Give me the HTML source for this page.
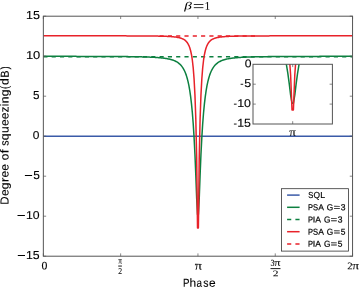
<!DOCTYPE html><html><head><meta charset="utf-8"><style>html,body{margin:0;padding:0;background:#fff;overflow:hidden}svg{display:block} text{filter:grayscale(1);font-kerning:none;text-rendering:geometricPrecision} .ts{stroke:#000;stroke-width:0.1px;paint-order:stroke} .tl{stroke:#000;stroke-width:0.22px;paint-order:stroke} .tr{stroke:#000;stroke-width:0.08px;paint-order:stroke}</style></head><body>
<svg width="359" height="287" viewBox="0 0 359 287">
<rect x="0" y="0" width="359" height="287" fill="#fff"/>
<defs><clipPath id="cm"><rect x="43.35" y="16.2" width="309.2" height="240.0"/></clipPath><clipPath id="ci"><rect x="253.0" y="64.3" width="79.39999999999998" height="59.7"/></clipPath></defs>
<g clip-path="url(#cm)" fill="none" stroke-width="1.5" stroke-linejoin="round">
<path d="M43.35,136.20 L352.55,136.20" stroke="#3a5aa8"/>
<path d="M43.35,56.35 L44.21,56.35 L45.07,56.35 L45.93,56.35 L46.80,56.35 L47.66,56.35 L48.52,56.35 L49.38,56.35 L50.24,56.35 L51.10,56.35 L51.96,56.35 L52.82,56.35 L53.69,56.35 L54.55,56.35 L55.41,56.35 L56.27,56.36 L57.13,56.36 L57.99,56.36 L58.85,56.36 L59.71,56.36 L60.58,56.36 L61.44,56.36 L62.30,56.36 L63.16,56.36 L64.02,56.36 L64.88,56.36 L65.74,56.36 L66.60,56.36 L67.47,56.36 L68.33,56.36 L69.19,56.37 L70.05,56.37 L70.91,56.37 L71.77,56.37 L72.63,56.37 L73.49,56.37 L74.36,56.37 L75.22,56.37 L76.08,56.37 L76.94,56.38 L77.80,56.38 L78.66,56.38 L79.52,56.38 L80.39,56.38 L81.25,56.38 L82.11,56.38 L82.97,56.39 L83.83,56.39 L84.69,56.39 L85.55,56.39 L86.41,56.39 L87.28,56.39 L88.14,56.40 L89.00,56.40 L89.86,56.40 L90.72,56.40 L91.58,56.41 L92.44,56.41 L93.30,56.41 L94.17,56.41 L95.03,56.41 L95.89,56.42 L96.75,56.42 L97.61,56.42 L98.47,56.43 L99.33,56.43 L100.19,56.43 L101.06,56.44 L101.92,56.44 L102.78,56.44 L103.64,56.45 L104.50,56.45 L105.36,56.45 L106.22,56.46 L107.08,56.46 L107.95,56.47 L108.81,56.47 L109.67,56.47 L110.53,56.48 L111.39,56.48 L112.25,56.49 L113.11,56.49 L113.98,56.50 L114.84,56.50 L115.70,56.51 L116.56,56.52 L117.42,56.52 L118.28,56.53 L119.14,56.54 L120.00,56.54 L120.87,56.55 L121.73,56.56 L122.59,56.57 L123.45,56.57 L124.31,56.58 L125.17,56.59 L126.03,56.60 L126.89,56.61 L127.76,56.62 L128.62,56.63 L129.48,56.64 L130.34,56.65 L131.20,56.66 L132.06,56.68 L132.92,56.69 L133.78,56.70 L134.65,56.72 L135.51,56.73 L136.37,56.75 L137.23,56.76 L138.09,56.78 L138.95,56.80 L139.81,56.81 L140.67,56.83 L141.54,56.85 L142.40,56.88 L143.26,56.90 L144.12,56.92 L144.98,56.95 L145.84,56.98 L146.70,57.00 L147.57,57.03 L148.43,57.07 L149.29,57.10 L150.15,57.13 L151.01,57.17 L151.87,57.21 L152.73,57.26 L153.59,57.30 L154.46,57.35 L155.32,57.40 L156.18,57.46 L157.04,57.52 L157.90,57.58 L158.76,57.65 L159.62,57.72 L160.48,57.80 L161.35,57.89 L162.21,57.98 L163.07,58.08 L163.93,58.19 L164.79,58.30 L165.65,58.43 L166.51,58.57 L167.37,58.72 L168.24,58.89 L169.10,59.07 L169.96,59.27 L170.82,59.49 L171.68,59.74 L172.54,60.01 L173.40,60.31 L174.26,60.65 L175.13,61.03 L175.99,61.46 L176.85,61.94 L177.71,62.48 L178.57,63.09 L179.43,63.80 L180.29,64.60 L181.16,65.53 L182.02,66.60 L182.88,67.84 L183.74,69.29 L184.60,70.99 L185.46,73.00 L186.32,75.37 L187.18,78.20 L188.05,81.59 L188.91,85.66 L189.77,90.58 L190.63,96.56 L191.49,103.84 L192.35,112.76 L193.21,123.74 L194.07,137.36 L194.94,154.29 L195.80,175.07 L196.66,198.25 L197.52,214.55 L198.38,214.55 L199.24,198.25 L200.10,175.07 L200.96,154.29 L201.83,137.36 L202.69,123.74 L203.55,112.76 L204.41,103.84 L205.27,96.56 L206.13,90.58 L206.99,85.66 L207.85,81.59 L208.72,78.20 L209.58,75.37 L210.44,73.00 L211.30,70.99 L212.16,69.29 L213.02,67.84 L213.88,66.60 L214.74,65.53 L215.61,64.60 L216.47,63.80 L217.33,63.09 L218.19,62.48 L219.05,61.94 L219.91,61.46 L220.77,61.03 L221.64,60.65 L222.50,60.31 L223.36,60.01 L224.22,59.74 L225.08,59.49 L225.94,59.27 L226.80,59.07 L227.66,58.89 L228.53,58.72 L229.39,58.57 L230.25,58.43 L231.11,58.30 L231.97,58.19 L232.83,58.08 L233.69,57.98 L234.55,57.89 L235.42,57.80 L236.28,57.72 L237.14,57.65 L238.00,57.58 L238.86,57.52 L239.72,57.46 L240.58,57.40 L241.44,57.35 L242.31,57.30 L243.17,57.26 L244.03,57.21 L244.89,57.17 L245.75,57.13 L246.61,57.10 L247.47,57.07 L248.33,57.03 L249.20,57.00 L250.06,56.98 L250.92,56.95 L251.78,56.92 L252.64,56.90 L253.50,56.88 L254.36,56.85 L255.23,56.83 L256.09,56.81 L256.95,56.80 L257.81,56.78 L258.67,56.76 L259.53,56.75 L260.39,56.73 L261.25,56.72 L262.12,56.70 L262.98,56.69 L263.84,56.68 L264.70,56.66 L265.56,56.65 L266.42,56.64 L267.28,56.63 L268.14,56.62 L269.01,56.61 L269.87,56.60 L270.73,56.59 L271.59,56.58 L272.45,56.57 L273.31,56.57 L274.17,56.56 L275.03,56.55 L275.90,56.54 L276.76,56.54 L277.62,56.53 L278.48,56.52 L279.34,56.52 L280.20,56.51 L281.06,56.50 L281.92,56.50 L282.79,56.49 L283.65,56.49 L284.51,56.48 L285.37,56.48 L286.23,56.47 L287.09,56.47 L287.95,56.47 L288.82,56.46 L289.68,56.46 L290.54,56.45 L291.40,56.45 L292.26,56.45 L293.12,56.44 L293.98,56.44 L294.84,56.44 L295.71,56.43 L296.57,56.43 L297.43,56.43 L298.29,56.42 L299.15,56.42 L300.01,56.42 L300.87,56.41 L301.73,56.41 L302.60,56.41 L303.46,56.41 L304.32,56.41 L305.18,56.40 L306.04,56.40 L306.90,56.40 L307.76,56.40 L308.62,56.39 L309.49,56.39 L310.35,56.39 L311.21,56.39 L312.07,56.39 L312.93,56.39 L313.79,56.38 L314.65,56.38 L315.51,56.38 L316.38,56.38 L317.24,56.38 L318.10,56.38 L318.96,56.38 L319.82,56.37 L320.68,56.37 L321.54,56.37 L322.41,56.37 L323.27,56.37 L324.13,56.37 L324.99,56.37 L325.85,56.37 L326.71,56.37 L327.57,56.36 L328.43,56.36 L329.30,56.36 L330.16,56.36 L331.02,56.36 L331.88,56.36 L332.74,56.36 L333.60,56.36 L334.46,56.36 L335.32,56.36 L336.19,56.36 L337.05,56.36 L337.91,56.36 L338.77,56.36 L339.63,56.36 L340.49,56.35 L341.35,56.35 L342.21,56.35 L343.08,56.35 L343.94,56.35 L344.80,56.35 L345.66,56.35 L346.52,56.35 L347.38,56.35 L348.24,56.35 L349.10,56.35 L349.97,56.35 L350.83,56.35 L351.69,56.35 L352.55,56.35 L352.55,56.35" stroke="#0d8040"/>
<path d="M43.35,56.87 L352.55,56.87" stroke="#0d8040" stroke-dasharray="4.15 4.15"/>
<path d="M43.35,35.81 L44.21,35.81 L45.07,35.81 L45.93,35.81 L46.80,35.81 L47.66,35.81 L48.52,35.81 L49.38,35.81 L50.24,35.81 L51.10,35.81 L51.96,35.82 L52.82,35.82 L53.69,35.82 L54.55,35.82 L55.41,35.82 L56.27,35.82 L57.13,35.82 L57.99,35.82 L58.85,35.82 L59.71,35.82 L60.58,35.82 L61.44,35.82 L62.30,35.82 L63.16,35.82 L64.02,35.82 L64.88,35.82 L65.74,35.82 L66.60,35.82 L67.47,35.82 L68.33,35.82 L69.19,35.82 L70.05,35.82 L70.91,35.82 L71.77,35.82 L72.63,35.82 L73.49,35.82 L74.36,35.82 L75.22,35.82 L76.08,35.82 L76.94,35.82 L77.80,35.82 L78.66,35.82 L79.52,35.82 L80.39,35.82 L81.25,35.82 L82.11,35.82 L82.97,35.82 L83.83,35.82 L84.69,35.82 L85.55,35.82 L86.41,35.82 L87.28,35.82 L88.14,35.83 L89.00,35.83 L89.86,35.83 L90.72,35.83 L91.58,35.83 L92.44,35.83 L93.30,35.83 L94.17,35.83 L95.03,35.83 L95.89,35.83 L96.75,35.83 L97.61,35.83 L98.47,35.83 L99.33,35.83 L100.19,35.83 L101.06,35.83 L101.92,35.84 L102.78,35.84 L103.64,35.84 L104.50,35.84 L105.36,35.84 L106.22,35.84 L107.08,35.84 L107.95,35.84 L108.81,35.84 L109.67,35.84 L110.53,35.85 L111.39,35.85 L112.25,35.85 L113.11,35.85 L113.98,35.85 L114.84,35.85 L115.70,35.85 L116.56,35.85 L117.42,35.86 L118.28,35.86 L119.14,35.86 L120.00,35.86 L120.87,35.86 L121.73,35.86 L122.59,35.87 L123.45,35.87 L124.31,35.87 L125.17,35.87 L126.03,35.87 L126.89,35.88 L127.76,35.88 L128.62,35.88 L129.48,35.88 L130.34,35.89 L131.20,35.89 L132.06,35.89 L132.92,35.90 L133.78,35.90 L134.65,35.90 L135.51,35.91 L136.37,35.91 L137.23,35.91 L138.09,35.92 L138.95,35.92 L139.81,35.93 L140.67,35.93 L141.54,35.94 L142.40,35.94 L143.26,35.95 L144.12,35.95 L144.98,35.96 L145.84,35.97 L146.70,35.97 L147.57,35.98 L148.43,35.99 L149.29,36.00 L150.15,36.00 L151.01,36.01 L151.87,36.02 L152.73,36.03 L153.59,36.05 L154.46,36.06 L155.32,36.07 L156.18,36.08 L157.04,36.10 L157.90,36.11 L158.76,36.13 L159.62,36.15 L160.48,36.17 L161.35,36.19 L162.21,36.21 L163.07,36.24 L163.93,36.26 L164.79,36.29 L165.65,36.33 L166.51,36.36 L167.37,36.40 L168.24,36.44 L169.10,36.49 L169.96,36.54 L170.82,36.60 L171.68,36.66 L172.54,36.73 L173.40,36.81 L174.26,36.90 L175.13,37.00 L175.99,37.11 L176.85,37.24 L177.71,37.39 L178.57,37.56 L179.43,37.76 L180.29,37.99 L181.16,38.26 L182.02,38.58 L182.88,38.96 L183.74,39.41 L184.60,39.96 L185.46,40.63 L186.32,41.46 L187.18,42.51 L188.05,43.83 L188.91,45.54 L189.77,47.76 L190.63,50.72 L191.49,54.73 L192.35,60.23 L193.21,67.93 L194.07,78.91 L194.94,94.87 L195.80,118.89 L196.66,157.66 L197.52,227.94 L198.38,227.94 L199.24,157.66 L200.10,118.89 L200.96,94.87 L201.83,78.91 L202.69,67.93 L203.55,60.23 L204.41,54.73 L205.27,50.72 L206.13,47.76 L206.99,45.54 L207.85,43.83 L208.72,42.51 L209.58,41.46 L210.44,40.63 L211.30,39.96 L212.16,39.41 L213.02,38.96 L213.88,38.58 L214.74,38.26 L215.61,37.99 L216.47,37.76 L217.33,37.56 L218.19,37.39 L219.05,37.24 L219.91,37.11 L220.77,37.00 L221.64,36.90 L222.50,36.81 L223.36,36.73 L224.22,36.66 L225.08,36.60 L225.94,36.54 L226.80,36.49 L227.66,36.44 L228.53,36.40 L229.39,36.36 L230.25,36.33 L231.11,36.29 L231.97,36.26 L232.83,36.24 L233.69,36.21 L234.55,36.19 L235.42,36.17 L236.28,36.15 L237.14,36.13 L238.00,36.11 L238.86,36.10 L239.72,36.08 L240.58,36.07 L241.44,36.06 L242.31,36.05 L243.17,36.03 L244.03,36.02 L244.89,36.01 L245.75,36.00 L246.61,36.00 L247.47,35.99 L248.33,35.98 L249.20,35.97 L250.06,35.97 L250.92,35.96 L251.78,35.95 L252.64,35.95 L253.50,35.94 L254.36,35.94 L255.23,35.93 L256.09,35.93 L256.95,35.92 L257.81,35.92 L258.67,35.91 L259.53,35.91 L260.39,35.91 L261.25,35.90 L262.12,35.90 L262.98,35.90 L263.84,35.89 L264.70,35.89 L265.56,35.89 L266.42,35.88 L267.28,35.88 L268.14,35.88 L269.01,35.88 L269.87,35.87 L270.73,35.87 L271.59,35.87 L272.45,35.87 L273.31,35.87 L274.17,35.86 L275.03,35.86 L275.90,35.86 L276.76,35.86 L277.62,35.86 L278.48,35.86 L279.34,35.85 L280.20,35.85 L281.06,35.85 L281.92,35.85 L282.79,35.85 L283.65,35.85 L284.51,35.85 L285.37,35.85 L286.23,35.84 L287.09,35.84 L287.95,35.84 L288.82,35.84 L289.68,35.84 L290.54,35.84 L291.40,35.84 L292.26,35.84 L293.12,35.84 L293.98,35.84 L294.84,35.83 L295.71,35.83 L296.57,35.83 L297.43,35.83 L298.29,35.83 L299.15,35.83 L300.01,35.83 L300.87,35.83 L301.73,35.83 L302.60,35.83 L303.46,35.83 L304.32,35.83 L305.18,35.83 L306.04,35.83 L306.90,35.83 L307.76,35.83 L308.62,35.82 L309.49,35.82 L310.35,35.82 L311.21,35.82 L312.07,35.82 L312.93,35.82 L313.79,35.82 L314.65,35.82 L315.51,35.82 L316.38,35.82 L317.24,35.82 L318.10,35.82 L318.96,35.82 L319.82,35.82 L320.68,35.82 L321.54,35.82 L322.41,35.82 L323.27,35.82 L324.13,35.82 L324.99,35.82 L325.85,35.82 L326.71,35.82 L327.57,35.82 L328.43,35.82 L329.30,35.82 L330.16,35.82 L331.02,35.82 L331.88,35.82 L332.74,35.82 L333.60,35.82 L334.46,35.82 L335.32,35.82 L336.19,35.82 L337.05,35.82 L337.91,35.82 L338.77,35.82 L339.63,35.82 L340.49,35.82 L341.35,35.82 L342.21,35.82 L343.08,35.82 L343.94,35.82 L344.80,35.81 L345.66,35.81 L346.52,35.81 L347.38,35.81 L348.24,35.81 L349.10,35.81 L349.97,35.81 L350.83,35.81 L351.69,35.81 L352.55,35.81 L352.55,35.81" stroke="#e8222a"/>
<path d="M159.55,35.89 L259.15,35.89" stroke="#e8222a" stroke-dasharray="4.15 4.15"/>
</g>
<rect x="43.35" y="16.2" width="309.2" height="240.0" fill="none" stroke="#555" stroke-width="1"/>
<path d="M43.35,256.20 h2.8 M352.55,256.20 h-2.8 M43.35,216.20 h2.8 M352.55,216.20 h-2.8 M43.35,176.20 h2.8 M352.55,176.20 h-2.8 M43.35,136.20 h2.8 M352.55,136.20 h-2.8 M43.35,96.20 h2.8 M352.55,96.20 h-2.8 M43.35,56.20 h2.8 M352.55,56.20 h-2.8 M43.35,16.20 h2.8 M352.55,16.20 h-2.8 M43.35,256.2 v-2.8 M43.35,16.2 v2.8 M120.65,256.2 v-2.8 M120.65,16.2 v2.8 M197.95,256.2 v-2.8 M197.95,16.2 v2.8 M275.25,256.2 v-2.8 M275.25,16.2 v2.8 M352.55,256.2 v-2.8 M352.55,16.2 v2.8" stroke="#555" stroke-width="0.7" fill="none"/>
<text transform="matrix(1.2473,0.001,0,1.1609,25.950,18.887)" font-family="Liberation Sans" font-style="normal" font-size="10.0" fill="#000"  class="ts">15</text>
<text transform="matrix(1.2938,0.001,0,1.1441,25.914,58.888)" font-family="Liberation Sans" font-style="normal" font-size="10.0" fill="#000"  class="ts">10</text>
<text transform="matrix(1.1600,0.001,0,1.1609,33.036,98.887)" font-family="Liberation Sans" font-style="normal" font-size="10.0" fill="#000"  class="ts">5</text>
<text transform="matrix(1.1924,0.001,0,1.1441,32.834,138.888)" font-family="Liberation Sans" font-style="normal" font-size="10.0" fill="#000"  class="ts">0</text>
<text transform="matrix(1.1811,0.001,0,1.1609,33.127,178.887)" font-family="Liberation Sans" font-style="normal" font-size="10.0" fill="#000"  class="ts">5</text>
<rect x="24.9" y="175.00" width="7.20" height="1.0" fill="#000"/>
<text transform="matrix(1.2236,0.001,0,1.1441,25.968,218.888)" font-family="Liberation Sans" font-style="normal" font-size="10.0" fill="#000"  class="ts">10</text>
<rect x="17.5" y="215.00" width="7.40" height="1.0" fill="#000"/>
<text transform="matrix(1.2272,0.001,0,1.1609,25.965,258.887)" font-family="Liberation Sans" font-style="normal" font-size="10.0" fill="#000"  class="ts">15</text>
<rect x="17.8" y="255.00" width="7.20" height="1.0" fill="#000"/>
<text transform="matrix(1.1797,0.001,0,1.1411,41.451,269.189)" font-family="Liberation Serif" font-style="normal" font-size="10.0" fill="#000"  class="tr">0</text>
<text transform="matrix(0.7352,0.001,0,0.9173,118.199,263.610)" font-family="Liberation Serif" font-style="normal" font-size="10.0" fill="#000"  class="tr">π</text>
<rect x="118.2" y="265.6" width="3.7" height="0.9" fill="#000"/>
<text transform="matrix(0.7733,0.001,0,0.8911,118.260,274.000)" font-family="Liberation Serif" font-style="normal" font-size="10.0" fill="#000"  class="tr">2</text>
<text transform="matrix(1.4494,0.001,0,1.2160,194.802,269.481)" font-family="Liberation Serif" font-style="normal" font-size="10.0" fill="#000"  class="tr">π</text>
<text transform="matrix(0.7989,0.001,0,0.9079,270.518,265.811)" font-family="Liberation Serif" font-style="normal" font-size="10.0" fill="#000"  class="tr">3</text>
<text transform="matrix(1.2183,0.001,0,0.9600,274.233,265.806)" font-family="Liberation Serif" font-style="normal" font-size="10.0" fill="#000"  class="tr">π</text>
<rect x="270.5" y="268.2" width="10.0" height="0.9" fill="#000"/>
<text transform="matrix(1.1475,0.001,0,0.8458,272.696,276.300)" font-family="Liberation Serif" font-style="normal" font-size="10.0" fill="#000"  class="tr">2</text>
<text transform="matrix(1.0726,0.001,0,1.0270,347.229,269.200)" font-family="Liberation Serif" font-style="normal" font-size="10.0" fill="#000"  class="tr">2</text>
<text transform="matrix(1.3653,0.001,0,1.1520,352.213,269.287)" font-family="Liberation Serif" font-style="normal" font-size="10.0" fill="#000"  class="tr">π</text>
<text transform="matrix(1.5409,0.001,0,1.0687,184.348,9.325)" font-family="Liberation Serif" font-style="italic" font-size="10.0" fill="#000"  >β</text>
<rect x="193.8" y="4.0" width="9.6" height="0.8" fill="#000"/>
<rect x="193.8" y="7.3" width="9.6" height="0.8" fill="#000"/>
<text transform="matrix(1.1646,0.001,0,1.1664,204.376,9.800)" font-family="Liberation Serif" font-style="normal" font-size="10.0" fill="#000"  >1</text>
<text transform="matrix(0.9728,0.001,0,1.1628,183.002,286.800)" font-family="Liberation Sans" font-size="10.0" fill="#000" class="ts">P</text><text transform="matrix(1.1942,0.001,0,1.1628,189.525,286.800)" font-family="Liberation Sans" font-size="10.0" fill="#000" class="ts">h</text><text transform="matrix(0.9892,0.001,0,1.1628,196.566,286.800)" font-family="Liberation Sans" font-size="10.0" fill="#000" class="ts">a</text><text transform="matrix(1.0544,0.001,0,1.1628,203.369,286.800)" font-family="Liberation Sans" font-size="10.0" fill="#000" class="ts">s</text><text transform="matrix(1.1881,0.001,0,1.1628,208.899,286.800)" font-family="Liberation Sans" font-size="10.0" fill="#000" class="ts">e</text>
<g transform="matrix(0.001,-1,1,0,8.5,203.7)"><text transform="matrix(1.1536,0.001,0,1.1628,-0.946,0.000)" font-family="Liberation Sans" font-size="10.0" fill="#000" class="ts">D</text><text transform="matrix(1.2043,0.001,0,1.1628,7.595,0.000)" font-family="Liberation Sans" font-size="10.0" fill="#000" class="ts">e</text><text transform="matrix(1.2119,0.001,0,1.1628,14.458,0.000)" font-family="Liberation Sans" font-size="10.0" fill="#000" class="ts">g</text><text transform="matrix(1.4286,0.001,0,1.1628,21.493,0.000)" font-family="Liberation Sans" font-size="10.0" fill="#000" class="ts">r</text><text transform="matrix(1.2043,0.001,0,1.1628,26.117,0.000)" font-family="Liberation Sans" font-size="10.0" fill="#000" class="ts">e</text><text transform="matrix(1.2043,0.001,0,1.1628,32.977,0.000)" font-family="Liberation Sans" font-size="10.0" fill="#000" class="ts">e</text><text transform="matrix(1.1853,0.001,0,1.1628,43.394,0.000)" font-family="Liberation Sans" font-size="10.0" fill="#000" class="ts">o</text><text transform="matrix(1.4641,0.001,0,1.1628,50.147,0.000)" font-family="Liberation Sans" font-size="10.0" fill="#000" class="ts">f</text><text transform="matrix(1.0688,0.001,0,1.1628,57.875,0.000)" font-family="Liberation Sans" font-size="10.0" fill="#000" class="ts">s</text><text transform="matrix(1.2105,0.001,0,1.1628,63.484,0.000)" font-family="Liberation Sans" font-size="10.0" fill="#000" class="ts">q</text><text transform="matrix(1.2021,0.001,0,1.1628,70.622,0.000)" font-family="Liberation Sans" font-size="10.0" fill="#000" class="ts">u</text><text transform="matrix(1.2043,0.001,0,1.1628,77.626,0.000)" font-family="Liberation Sans" font-size="10.0" fill="#000" class="ts">e</text><text transform="matrix(1.2043,0.001,0,1.1628,84.485,0.000)" font-family="Liberation Sans" font-size="10.0" fill="#000" class="ts">e</text><text transform="matrix(1.1947,0.001,0,1.1628,91.237,0.000)" font-family="Liberation Sans" font-size="10.0" fill="#000" class="ts">z</text><text transform="matrix(1.1398,0.001,0,1.1628,97.383,0.000)" font-family="Liberation Sans" font-size="10.0" fill="#000" class="ts">i</text><text transform="matrix(1.2021,0.001,0,1.1628,100.406,0.000)" font-family="Liberation Sans" font-size="10.0" fill="#000" class="ts">n</text><text transform="matrix(1.2119,0.001,0,1.1628,107.365,0.000)" font-family="Liberation Sans" font-size="10.0" fill="#000" class="ts">g</text><text transform="matrix(0.9425,0.001,0,1.1628,114.710,0.000)" font-family="Liberation Sans" font-size="10.0" fill="#000" class="ts">(</text><text transform="matrix(1.2119,0.001,0,1.1628,118.793,0.000)" font-family="Liberation Sans" font-size="10.0" fill="#000" class="ts">d</text><text transform="matrix(1.0833,0.001,0,1.1628,125.970,0.000)" font-family="Liberation Sans" font-size="10.0" fill="#000" class="ts">B</text><text transform="matrix(0.9425,0.001,0,1.1628,134.251,0.000)" font-family="Liberation Sans" font-size="10.0" fill="#000" class="ts">)</text></g>
<rect x="281.5" y="188.7" width="67" height="62.4" fill="#fff" stroke="#333" stroke-width="0.8"/>
<path d="M287.1,195.1 L299.6,195.1" stroke="#3a5aa8" stroke-width="1.5" fill="none"/>
<text transform="matrix(0.7577,0.001,0,0.8721,308.156,198.050)" font-family="Liberation Sans" font-size="10.0" fill="#000" class="tl">S</text><text transform="matrix(0.8403,0.001,0,0.8721,313.415,198.050)" font-family="Liberation Sans" font-size="10.0" fill="#000" class="tl">Q</text><text transform="matrix(0.8745,0.001,0,0.8721,320.143,198.050)" font-family="Liberation Sans" font-size="10.0" fill="#000" class="tl">L</text>
<path d="M287.1,207.3 L299.6,207.3" stroke="#0d8040" stroke-width="1.5" fill="none"/>
<text transform="matrix(0.7517,0.001,0,0.8721,307.883,210.250)" font-family="Liberation Sans" font-size="10.0" fill="#000" class="tl">P</text><text transform="matrix(0.7577,0.001,0,0.8721,313.008,210.250)" font-family="Liberation Sans" font-size="10.0" fill="#000" class="tl">S</text><text transform="matrix(0.8563,0.001,0,0.8721,318.237,210.250)" font-family="Liberation Sans" font-size="10.0" fill="#000" class="tl">A</text><text transform="matrix(0.8290,0.001,0,0.8721,326.764,210.250)" font-family="Liberation Sans" font-size="10.0" fill="#000" class="tl">G</text><text transform="matrix(1.0952,0.001,0,0.8721,333.656,210.250)" font-family="Liberation Sans" font-size="10.0" fill="#000" class="tl">=</text><text transform="matrix(0.8605,0.001,0,0.8721,340.732,210.250)" font-family="Liberation Sans" font-size="10.0" fill="#000" class="tl">3</text>
<path d="M287.1,219.5 L299.6,219.5" stroke="#0d8040" stroke-width="1.5" fill="none" stroke-dasharray="4.15 4.15"/>
<text transform="matrix(0.7517,0.001,0,0.8721,307.883,222.450)" font-family="Liberation Sans" font-size="10.0" fill="#000" class="tl">P</text><text transform="matrix(0.8990,0.001,0,0.8721,312.796,222.450)" font-family="Liberation Sans" font-size="10.0" fill="#000" class="tl">I</text><text transform="matrix(0.8563,0.001,0,0.8721,315.348,222.450)" font-family="Liberation Sans" font-size="10.0" fill="#000" class="tl">A</text><text transform="matrix(0.8290,0.001,0,0.8721,323.875,222.450)" font-family="Liberation Sans" font-size="10.0" fill="#000" class="tl">G</text><text transform="matrix(1.0952,0.001,0,0.8721,330.767,222.450)" font-family="Liberation Sans" font-size="10.0" fill="#000" class="tl">=</text><text transform="matrix(0.8605,0.001,0,0.8721,337.843,222.450)" font-family="Liberation Sans" font-size="10.0" fill="#000" class="tl">3</text>
<path d="M287.1,231.7 L299.6,231.7" stroke="#e8222a" stroke-width="1.5" fill="none"/>
<text transform="matrix(0.7517,0.001,0,0.8721,307.883,234.650)" font-family="Liberation Sans" font-size="10.0" fill="#000" class="tl">P</text><text transform="matrix(0.7577,0.001,0,0.8721,313.008,234.650)" font-family="Liberation Sans" font-size="10.0" fill="#000" class="tl">S</text><text transform="matrix(0.8563,0.001,0,0.8721,318.237,234.650)" font-family="Liberation Sans" font-size="10.0" fill="#000" class="tl">A</text><text transform="matrix(0.8290,0.001,0,0.8721,326.764,234.650)" font-family="Liberation Sans" font-size="10.0" fill="#000" class="tl">G</text><text transform="matrix(1.0952,0.001,0,0.8721,333.656,234.650)" font-family="Liberation Sans" font-size="10.0" fill="#000" class="tl">=</text><text transform="matrix(0.8456,0.001,0,0.8721,340.730,234.650)" font-family="Liberation Sans" font-size="10.0" fill="#000" class="tl">5</text>
<path d="M287.1,243.9 L299.6,243.9" stroke="#e8222a" stroke-width="1.5" fill="none" stroke-dasharray="4.15 4.15"/>
<text transform="matrix(0.7517,0.001,0,0.8721,307.883,246.850)" font-family="Liberation Sans" font-size="10.0" fill="#000" class="tl">P</text><text transform="matrix(0.8990,0.001,0,0.8721,312.796,246.850)" font-family="Liberation Sans" font-size="10.0" fill="#000" class="tl">I</text><text transform="matrix(0.8563,0.001,0,0.8721,315.348,246.850)" font-family="Liberation Sans" font-size="10.0" fill="#000" class="tl">A</text><text transform="matrix(0.8290,0.001,0,0.8721,323.875,246.850)" font-family="Liberation Sans" font-size="10.0" fill="#000" class="tl">G</text><text transform="matrix(1.0952,0.001,0,0.8721,330.767,246.850)" font-family="Liberation Sans" font-size="10.0" fill="#000" class="tl">=</text><text transform="matrix(0.8456,0.001,0,0.8721,337.841,246.850)" font-family="Liberation Sans" font-size="10.0" fill="#000" class="tl">5</text>
<rect x="253.0" y="64.3" width="79.39999999999998" height="59.7" fill="#fff"/>
<g clip-path="url(#ci)" fill="none" stroke-width="1.5" stroke-linejoin="round">
<path d="M250.32,26.26 L251.71,26.40 L253.09,26.55 L254.48,26.72 L255.87,26.90 L257.26,27.11 L258.65,27.35 L260.04,27.62 L261.43,27.93 L262.82,28.28 L264.21,28.68 L265.60,29.14 L266.99,29.67 L268.38,30.29 L269.77,31.01 L271.16,31.86 L272.55,32.86 L273.94,34.04 L275.33,35.45 L276.72,37.13 L278.11,39.16 L279.50,41.61 L280.89,44.58 L282.28,48.20 L283.67,52.64 L285.06,58.10 L286.45,64.88 L287.84,73.30 L289.23,83.64 L290.62,95.17 L292.01,103.28 L293.39,103.28 L294.78,95.17 L296.17,83.64 L297.56,73.30 L298.95,64.88 L300.34,58.10 L301.73,52.64 L303.12,48.20 L304.51,44.58 L305.90,41.61 L307.29,39.16 L308.68,37.13 L310.07,35.45 L311.46,34.04 L312.85,32.86 L314.24,31.86 L315.63,31.01 L317.02,30.29 L318.41,29.67 L319.80,29.14 L321.19,28.68 L322.58,28.28 L323.97,27.93 L325.36,27.62 L326.75,27.35 L328.14,27.11 L329.53,26.90 L330.92,26.72 L332.31,26.55 L333.69,26.40 L335.08,26.26 L335.08,26.26" stroke="#0d8040"/>
<path d="M250.32,14.78 L251.71,14.81 L253.09,14.85 L254.48,14.90 L255.87,14.95 L257.26,15.00 L258.65,15.07 L260.04,15.14 L261.43,15.23 L262.82,15.33 L264.21,15.44 L265.60,15.57 L266.99,15.73 L268.38,15.92 L269.77,16.15 L271.16,16.42 L272.55,16.75 L273.94,17.17 L275.33,17.69 L276.72,18.35 L278.11,19.19 L279.50,20.30 L280.89,21.78 L282.28,23.77 L283.67,26.51 L285.06,30.34 L286.45,35.80 L287.84,43.74 L289.23,55.69 L290.62,74.97 L292.01,109.94 L293.39,109.94 L294.78,74.97 L296.17,55.69 L297.56,43.74 L298.95,35.80 L300.34,30.34 L301.73,26.51 L303.12,23.77 L304.51,21.78 L305.90,20.30 L307.29,19.19 L308.68,18.35 L310.07,17.69 L311.46,17.17 L312.85,16.75 L314.24,16.42 L315.63,16.15 L317.02,15.92 L318.41,15.73 L319.80,15.57 L321.19,15.44 L322.58,15.33 L323.97,15.23 L325.36,15.14 L326.75,15.07 L328.14,15.00 L329.53,14.95 L330.92,14.90 L332.31,14.85 L333.69,14.81 L335.08,14.78 L335.08,14.78" stroke="#e8222a"/>
</g>
<rect x="253.0" y="64.3" width="79.39999999999998" height="59.7" fill="none" stroke="#555" stroke-width="1"/>
<path d="M253.0,84.20 h2.8 M332.4,84.20 h-2.8 M253.0,104.10 h2.8 M332.4,104.10 h-2.8 M292.70,124.0 v-2.8 M292.70,64.3 v2.8" stroke="#555" stroke-width="0.7" fill="none"/>
<text transform="matrix(1.2133,0.001,0,1.1229,244.826,67.140)" font-family="Liberation Sans" font-style="normal" font-size="10.0" fill="#000"  class="ts">0</text>
<text transform="matrix(1.2444,0.001,0,1.1394,244.302,87.039)" font-family="Liberation Sans" font-style="normal" font-size="10.0" fill="#000"  class="ts">5</text>
<rect x="240.6" y="83.80" width="2.60" height="0.9" fill="#000"/>
<text transform="matrix(1.2436,0.001,0,1.1229,237.153,106.940)" font-family="Liberation Sans" font-style="normal" font-size="10.0" fill="#000"  class="ts">10</text>
<rect x="233.9" y="103.70" width="2.70" height="0.9" fill="#000"/>
<text transform="matrix(1.2372,0.001,0,1.1394,237.158,126.839)" font-family="Liberation Sans" font-style="normal" font-size="10.0" fill="#000"  class="ts">15</text>
<rect x="233.9" y="123.60" width="2.70" height="0.9" fill="#000"/>
<text transform="matrix(1.3233,0.001,0,1.1520,289.219,135.688)" font-family="Liberation Serif" font-style="normal" font-size="10.0" fill="#000"  class="tr">π</text>
</svg></body></html>
